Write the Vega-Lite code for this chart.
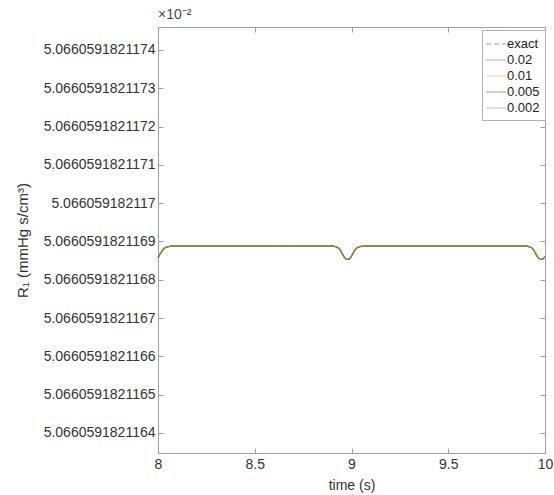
{
  "$schema": "https://vega.github.io/schema/vega-lite/v6.json",
  "width": 387,
  "height": 426,
  "autosize": {"type": "none"},
  "padding": {"left": 158, "top": 27, "right": 9, "bottom": 42},
  "title": {"text": "×10⁻²", "anchor": "start", "frame": "group", "offset": 5, "fontSize": 14, "fontWeight": "normal", "color": "#444444", "font": "Liberation Sans"},
  "config": {
    "font": "Liberation Sans",
    "view": {"stroke": "#a0a0a0", "strokeWidth": 1},
    "axis": {"labelFont": "Liberation Sans", "titleFont": "Liberation Sans", "labelColor": "#333333", "titleColor": "#333333", "domainColor": "#a0a0a0", "tickColor": "#a0a0a0", "grid": false, "labelFontSize": 14, "titleFontSize": 14, "titleFontWeight": "normal"}
  },
  "resolve": {"axis": {"x": "independent", "y": "independent"}},
  "datasets": {
    "curve": [
      {"t": 8.00, "r": 5.066059182116857, "s": "exact"},
      {"t": 8.01, "r": 5.066059182116867, "s": "exact"},
      {"t": 8.02, "r": 5.066059182116875, "s": "exact"},
      {"t": 8.03, "r": 5.066059182116881, "s": "exact"},
      {"t": 8.05, "r": 5.066059182116886, "s": "exact"},
      {"t": 8.08, "r": 5.066059182116888, "s": "exact"},
      {"t": 8.90, "r": 5.066059182116888, "s": "exact"},
      {"t": 8.92, "r": 5.066059182116886, "s": "exact"},
      {"t": 8.94, "r": 5.066059182116879, "s": "exact"},
      {"t": 8.95, "r": 5.066059182116870, "s": "exact"},
      {"t": 8.96, "r": 5.066059182116861, "s": "exact"},
      {"t": 8.97, "r": 5.066059182116855, "s": "exact"},
      {"t": 8.98, "r": 5.066059182116853, "s": "exact"},
      {"t": 8.99, "r": 5.066059182116855, "s": "exact"},
      {"t": 9.00, "r": 5.066059182116862, "s": "exact"},
      {"t": 9.01, "r": 5.066059182116871, "s": "exact"},
      {"t": 9.02, "r": 5.066059182116879, "s": "exact"},
      {"t": 9.04, "r": 5.066059182116886, "s": "exact"},
      {"t": 9.07, "r": 5.066059182116888, "s": "exact"},
      {"t": 9.90, "r": 5.066059182116888, "s": "exact"},
      {"t": 9.92, "r": 5.066059182116886, "s": "exact"},
      {"t": 9.94, "r": 5.066059182116879, "s": "exact"},
      {"t": 9.95, "r": 5.066059182116870, "s": "exact"},
      {"t": 9.96, "r": 5.066059182116861, "s": "exact"},
      {"t": 9.97, "r": 5.066059182116855, "s": "exact"},
      {"t": 9.98, "r": 5.066059182116853, "s": "exact"},
      {"t": 9.99, "r": 5.066059182116855, "s": "exact"},
      {"t": 10.00, "r": 5.066059182116860, "s": "exact"},

      {"t": 8.00, "r": 5.066059182116857, "s": "0.02"},
      {"t": 8.01, "r": 5.066059182116867, "s": "0.02"},
      {"t": 8.02, "r": 5.066059182116875, "s": "0.02"},
      {"t": 8.03, "r": 5.066059182116881, "s": "0.02"},
      {"t": 8.05, "r": 5.066059182116886, "s": "0.02"},
      {"t": 8.08, "r": 5.066059182116888, "s": "0.02"},
      {"t": 8.90, "r": 5.066059182116888, "s": "0.02"},
      {"t": 8.92, "r": 5.066059182116886, "s": "0.02"},
      {"t": 8.94, "r": 5.066059182116879, "s": "0.02"},
      {"t": 8.95, "r": 5.066059182116870, "s": "0.02"},
      {"t": 8.96, "r": 5.066059182116861, "s": "0.02"},
      {"t": 8.97, "r": 5.066059182116855, "s": "0.02"},
      {"t": 8.98, "r": 5.066059182116853, "s": "0.02"},
      {"t": 8.99, "r": 5.066059182116855, "s": "0.02"},
      {"t": 9.00, "r": 5.066059182116862, "s": "0.02"},
      {"t": 9.01, "r": 5.066059182116871, "s": "0.02"},
      {"t": 9.02, "r": 5.066059182116879, "s": "0.02"},
      {"t": 9.04, "r": 5.066059182116886, "s": "0.02"},
      {"t": 9.07, "r": 5.066059182116888, "s": "0.02"},
      {"t": 9.90, "r": 5.066059182116888, "s": "0.02"},
      {"t": 9.92, "r": 5.066059182116886, "s": "0.02"},
      {"t": 9.94, "r": 5.066059182116879, "s": "0.02"},
      {"t": 9.95, "r": 5.066059182116870, "s": "0.02"},
      {"t": 9.96, "r": 5.066059182116861, "s": "0.02"},
      {"t": 9.97, "r": 5.066059182116855, "s": "0.02"},
      {"t": 9.98, "r": 5.066059182116853, "s": "0.02"},
      {"t": 9.99, "r": 5.066059182116855, "s": "0.02"},
      {"t": 10.00, "r": 5.066059182116860, "s": "0.02"},

      {"t": 8.00, "r": 5.066059182116857, "s": "0.01"},
      {"t": 8.01, "r": 5.066059182116867, "s": "0.01"},
      {"t": 8.02, "r": 5.066059182116875, "s": "0.01"},
      {"t": 8.03, "r": 5.066059182116881, "s": "0.01"},
      {"t": 8.05, "r": 5.066059182116886, "s": "0.01"},
      {"t": 8.08, "r": 5.066059182116888, "s": "0.01"},
      {"t": 8.90, "r": 5.066059182116888, "s": "0.01"},
      {"t": 8.92, "r": 5.066059182116886, "s": "0.01"},
      {"t": 8.94, "r": 5.066059182116879, "s": "0.01"},
      {"t": 8.95, "r": 5.066059182116870, "s": "0.01"},
      {"t": 8.96, "r": 5.066059182116861, "s": "0.01"},
      {"t": 8.97, "r": 5.066059182116855, "s": "0.01"},
      {"t": 8.98, "r": 5.066059182116853, "s": "0.01"},
      {"t": 8.99, "r": 5.066059182116855, "s": "0.01"},
      {"t": 9.00, "r": 5.066059182116862, "s": "0.01"},
      {"t": 9.01, "r": 5.066059182116871, "s": "0.01"},
      {"t": 9.02, "r": 5.066059182116879, "s": "0.01"},
      {"t": 9.04, "r": 5.066059182116886, "s": "0.01"},
      {"t": 9.07, "r": 5.066059182116888, "s": "0.01"},
      {"t": 9.90, "r": 5.066059182116888, "s": "0.01"},
      {"t": 9.92, "r": 5.066059182116886, "s": "0.01"},
      {"t": 9.94, "r": 5.066059182116879, "s": "0.01"},
      {"t": 9.95, "r": 5.066059182116870, "s": "0.01"},
      {"t": 9.96, "r": 5.066059182116861, "s": "0.01"},
      {"t": 9.97, "r": 5.066059182116855, "s": "0.01"},
      {"t": 9.98, "r": 5.066059182116853, "s": "0.01"},
      {"t": 9.99, "r": 5.066059182116855, "s": "0.01"},
      {"t": 10.00, "r": 5.066059182116860, "s": "0.01"},

      {"t": 8.00, "r": 5.066059182116857, "s": "0.005"},
      {"t": 8.01, "r": 5.066059182116867, "s": "0.005"},
      {"t": 8.02, "r": 5.066059182116875, "s": "0.005"},
      {"t": 8.03, "r": 5.066059182116881, "s": "0.005"},
      {"t": 8.05, "r": 5.066059182116886, "s": "0.005"},
      {"t": 8.08, "r": 5.066059182116888, "s": "0.005"},
      {"t": 8.90, "r": 5.066059182116888, "s": "0.005"},
      {"t": 8.92, "r": 5.066059182116886, "s": "0.005"},
      {"t": 8.94, "r": 5.066059182116879, "s": "0.005"},
      {"t": 8.95, "r": 5.066059182116870, "s": "0.005"},
      {"t": 8.96, "r": 5.066059182116861, "s": "0.005"},
      {"t": 8.97, "r": 5.066059182116855, "s": "0.005"},
      {"t": 8.98, "r": 5.066059182116853, "s": "0.005"},
      {"t": 8.99, "r": 5.066059182116855, "s": "0.005"},
      {"t": 9.00, "r": 5.066059182116862, "s": "0.005"},
      {"t": 9.01, "r": 5.066059182116871, "s": "0.005"},
      {"t": 9.02, "r": 5.066059182116879, "s": "0.005"},
      {"t": 9.04, "r": 5.066059182116886, "s": "0.005"},
      {"t": 9.07, "r": 5.066059182116888, "s": "0.005"},
      {"t": 9.90, "r": 5.066059182116888, "s": "0.005"},
      {"t": 9.92, "r": 5.066059182116886, "s": "0.005"},
      {"t": 9.94, "r": 5.066059182116879, "s": "0.005"},
      {"t": 9.95, "r": 5.066059182116870, "s": "0.005"},
      {"t": 9.96, "r": 5.066059182116861, "s": "0.005"},
      {"t": 9.97, "r": 5.066059182116855, "s": "0.005"},
      {"t": 9.98, "r": 5.066059182116853, "s": "0.005"},
      {"t": 9.99, "r": 5.066059182116855, "s": "0.005"},
      {"t": 10.00, "r": 5.066059182116860, "s": "0.005"},

      {"t": 8.00, "r": 5.066059182116857, "s": "0.002"},
      {"t": 8.01, "r": 5.066059182116867, "s": "0.002"},
      {"t": 8.02, "r": 5.066059182116875, "s": "0.002"},
      {"t": 8.03, "r": 5.066059182116881, "s": "0.002"},
      {"t": 8.05, "r": 5.066059182116886, "s": "0.002"},
      {"t": 8.08, "r": 5.066059182116888, "s": "0.002"},
      {"t": 8.90, "r": 5.066059182116888, "s": "0.002"},
      {"t": 8.92, "r": 5.066059182116886, "s": "0.002"},
      {"t": 8.94, "r": 5.066059182116879, "s": "0.002"},
      {"t": 8.95, "r": 5.066059182116870, "s": "0.002"},
      {"t": 8.96, "r": 5.066059182116861, "s": "0.002"},
      {"t": 8.97, "r": 5.066059182116855, "s": "0.002"},
      {"t": 8.98, "r": 5.066059182116853, "s": "0.002"},
      {"t": 8.99, "r": 5.066059182116855, "s": "0.002"},
      {"t": 9.00, "r": 5.066059182116862, "s": "0.002"},
      {"t": 9.01, "r": 5.066059182116871, "s": "0.002"},
      {"t": 9.02, "r": 5.066059182116879, "s": "0.002"},
      {"t": 9.04, "r": 5.066059182116886, "s": "0.002"},
      {"t": 9.07, "r": 5.066059182116888, "s": "0.002"},
      {"t": 9.90, "r": 5.066059182116888, "s": "0.002"},
      {"t": 9.92, "r": 5.066059182116886, "s": "0.002"},
      {"t": 9.94, "r": 5.066059182116879, "s": "0.002"},
      {"t": 9.95, "r": 5.066059182116870, "s": "0.002"},
      {"t": 9.96, "r": 5.066059182116861, "s": "0.002"},
      {"t": 9.97, "r": 5.066059182116855, "s": "0.002"},
      {"t": 9.98, "r": 5.066059182116853, "s": "0.002"},
      {"t": 9.99, "r": 5.066059182116855, "s": "0.002"},
      {"t": 10.00, "r": 5.066059182116860, "s": "0.002"}
    ]
  },
  "data": {"name": "curve"},
  "layer": [
    {
      "mark": {"type": "line", "strokeWidth": 1.2, "opacity": 0.85, "interpolate": "monotone"},
      "encoding": {
        "x": {"field": "t", "type": "quantitative", "title": "time (s)",
              "scale": {"domain": [8, 10], "nice": false, "zero": false},
              "axis": {"orient": "bottom", "values": [8, 8.5, 9, 9.5, 10], "labelExpr": "format(datum.value, '~g')", "tickSize": -5, "labelPadding": 9, "titlePadding": 7, "labelFlush": false, "labelOverlap": false}},
        "y": {"field": "r", "type": "quantitative", "title": "R₁ (mmHg s/cm³)",
              "scale": {"domain": [5.066059182116348, 5.06605918211746], "nice": false, "zero": false},
              "axis": {"orient": "left", "values": [5.0660591821164, 5.0660591821165, 5.0660591821166, 5.0660591821167, 5.0660591821168, 5.0660591821169, 5.066059182117, 5.0660591821171, 5.0660591821172, 5.0660591821173, 5.0660591821174],
                       "labelExpr": "format(datum.value, '.14~g')", "tickSize": -5, "labelPadding": 8, "labelOverlap": false, "labelFlush": false,
                       "titleX": -136, "titleY": 213, "titleAngle": -90, "titleAlign": "center", "titleBaseline": "middle", "titleFontSize": 15}},
        "color": {"field": "s", "type": "nominal", "sort": ["exact", "0.02", "0.01", "0.005", "0.002"],
                  "scale": {"domain": ["exact", "0.02", "0.01", "0.005", "0.002"], "range": ["#0072BD", "#D95319", "#EDB120", "#7E2F8E", "#77AC30"]},
                  "legend": {"title": null, "orient": "none", "legendX": 324, "legendY": 3, "symbolType": "M-1.25,0H1.25", "symbolSize": 256, "symbolStrokeWidth": 1.2,
                             "labelFontSize": 13, "labelColor": "#222222", "labelFont": "Liberation Sans", "fillColor": "white", "strokeColor": "#b0b0b0", "padding": 5, "rowPadding": -1, "labelOffset": 2, "symbolOpacity": 0.55}},
        "strokeDash": {"field": "s", "type": "nominal", "sort": ["exact", "0.02", "0.01", "0.005", "0.002"],
                       "scale": {"domain": ["exact", "0.02", "0.01", "0.005", "0.002"], "range": [[5, 3], [1, 0], [1, 0], [1, 0], [1, 0]]},
                       "legend": {"title": null, "orient": "none", "legendX": 324, "legendY": 3, "symbolType": "M-1.25,0H1.25", "symbolSize": 256, "symbolStrokeWidth": 1.2,
                             "labelFontSize": 13, "labelColor": "#222222", "labelFont": "Liberation Sans", "fillColor": "white", "strokeColor": "#b0b0b0", "padding": 5, "rowPadding": -1, "labelOffset": 2, "symbolOpacity": 0.55}}
      }
    },
    {
      "mark": {"type": "line", "opacity": 0},
      "encoding": {
        "x": {"field": "t", "type": "quantitative",
              "axis": {"orient": "top", "values": [8, 8.5, 9, 9.5, 10], "tickSize": -5, "labels": false, "domain": false, "title": null}},
        "y": {"field": "r", "type": "quantitative",
              "axis": {"orient": "right", "values": [5.0660591821164, 5.0660591821165, 5.0660591821166, 5.0660591821167, 5.0660591821168, 5.0660591821169, 5.066059182117, 5.0660591821171, 5.0660591821172, 5.0660591821173, 5.0660591821174], "tickSize": -5, "labels": false, "domain": false, "title": null}}
      }
    }
  ]
}
